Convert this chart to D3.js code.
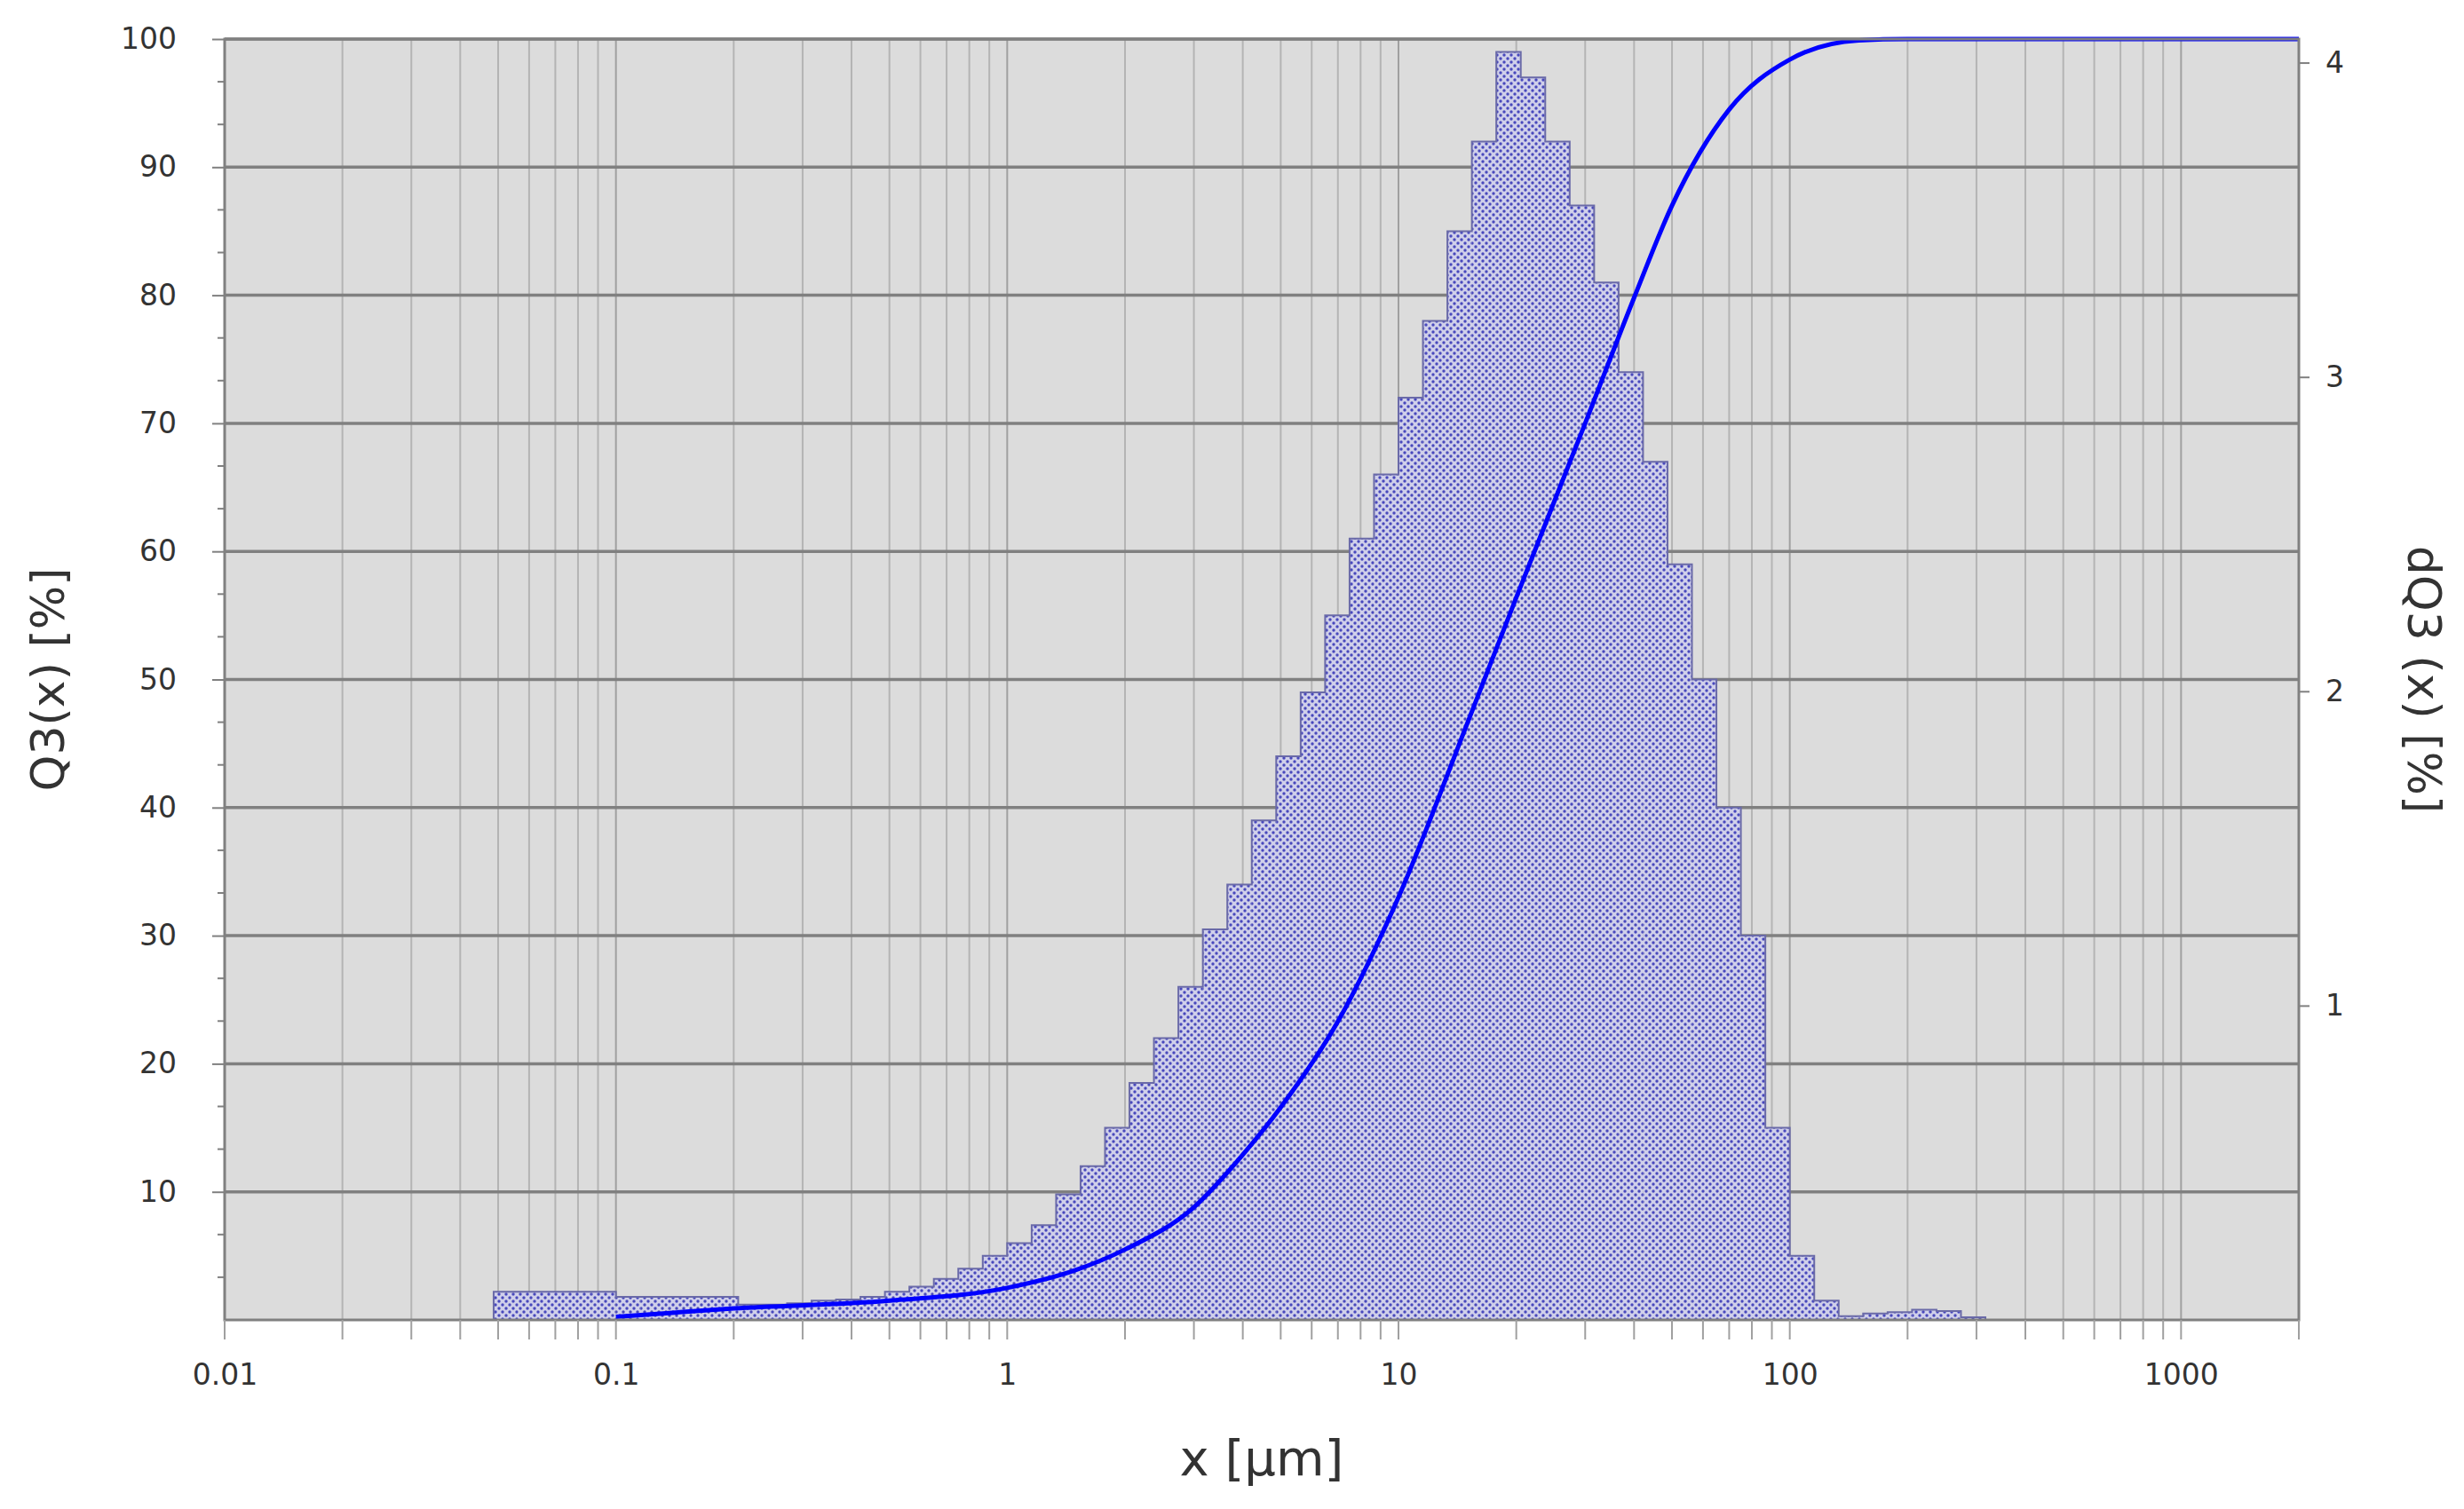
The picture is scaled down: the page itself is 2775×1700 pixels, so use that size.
<!DOCTYPE html>
<html><head><meta charset="utf-8">
<script src="https://cdn.jsdelivr.net/npm/d3@7"></script>
<style>body{margin:0;background:#fff}text{font-family:"DejaVu Sans",sans-serif;fill:#333}</style>
</head><body><svg id="c" width="2775" height="1700"></svg>
<script>
// histogram: bins of 1/16 decade starting at 10^-1.3125
const binStartLog = -1.3125, binStep = 1/16;
const binHeights = [2.2,2.2,2.2,2.2,2.2,
 1.8,1.8,1.8,1.8,1.8,1.2,1.2,1.3,1.5,1.6,1.8,2.2,2.6,3.2,4.0,5.0,6.0,7.4,9.8,12,15,18.5,22,26,30.5,34,39,44,49,55,61,66,72,78,85,92,99,97,92,87,81,74,67,59,50,40,30,15,5,1.5,0.3,0.5,0.6,0.8,0.7,0.2];
// cumulative Q3
const q3X = [0.1,0.2,0.5,1,1.5,2,3,4,5,7,10,15,20,30,40,50,70,100,150,200,2000];
const q3Y = [0.25,0.9,1.5,2.5,3.9,5.5,8.8,12.9,16.6,23.3,33,46.6,56.4,70,79.8,87,94.5,98.4,99.9,100,100];
const xTickLabels = ["0.01","0.1","1","10","100","1000"];
const yTicks = [10,20,30,40,50,60,70,80,90,100];
const y2Ticks = [1,2,3,4];

const svg = d3.select("#c");
const L=253,R=2589,T=44,B=1487;
const x = d3.scaleLog().domain([0.01,2000]).range([L,R]);
const y = d3.scaleLinear().domain([0,100]).range([B,T]);
const y2 = d3.scaleLinear().domain([0,4.075]).range([B,T]);

const defs = svg.append("defs");
const pat = defs.append("pattern").attr("id","dots").attr("patternUnits","userSpaceOnUse").attr("width",8).attr("height",8);
pat.append("rect").attr("width",8).attr("height",8).attr("fill","#d0d0ea");
pat.append("circle").attr("cx",2).attr("cy",2).attr("r",1.7).attr("fill","#4848bc");
pat.append("circle").attr("cx",6).attr("cy",6).attr("r",1.7).attr("fill","#4848bc");

svg.append("rect").attr("x",L).attr("y",T).attr("width",R-L).attr("height",B-T).attr("fill","#dcdcdc");

const vt=[];
for(let e=-2;e<=3;e++) for(let m=1;m<=9;m++){const v=m*Math.pow(10,e); if(v<=2000) vt.push(v);}
svg.append("g").selectAll("line").data(vt).join("line")
 .attr("x1",d=>x(d)).attr("x2",d=>x(d)).attr("y1",T).attr("y2",B)
 .attr("stroke",(d,i)=>i%9===0?"#a0a0a0":"#b4b4b4").attr("stroke-width",2);
svg.append("g").selectAll("line").data(yTicks).join("line")
 .attr("x1",L).attr("x2",R).attr("y1",d=>y(d)).attr("y2",d=>y(d)).attr("stroke","#808080").attr("stroke-width",3.5);

const bins = binHeights.map((h,i)=>({x0:Math.pow(10,binStartLog+i*binStep),x1:Math.pow(10,binStartLog+(i+1)*binStep),h}));
svg.append("g").selectAll("rect").data(bins).join("rect")
 .attr("x",d=>x(d.x0)).attr("width",d=>x(d.x1)-x(d.x0))
 .attr("y",d=>y(d.h)).attr("height",d=>B-y(d.h)).attr("fill","url(#dots)");
const pts=[[bins[0].x0,0]];
bins.forEach(b=>{pts.push([b.x0,b.h]);pts.push([b.x1,b.h]);});
pts.push([bins[bins.length-1].x1,0]);
svg.append("path").attr("d",d3.line().x(d=>x(d[0])).y(d=>y(d[1]))(pts))
 .attr("fill","none").attr("stroke","#6a6aa8").attr("stroke-width",2);

svg.append("path").datum(q3X.map((v,i)=>[v,q3Y[i]]))
 .attr("d",d3.line().x(d=>x(d[0])).y(d=>y(d[1])).curve(d3.curveMonotoneX))
 .attr("fill","none").attr("stroke","#0000ff").attr("stroke-width",5);

svg.append("rect").attr("x",L).attr("y",T).attr("width",R-L).attr("height",B-T).attr("fill","none").attr("stroke","#808080").attr("stroke-width",3);

const gl = svg.append("g").attr("transform",`translate(${L},0)`).call(d3.axisLeft(y).tickValues(yTicks).tickSize(14).tickPadding(40));
gl.selectAll("text").attr("font-size",33).attr("fill","#333");
gl.selectAll("line,path").attr("stroke","#808080").attr("stroke-width",2);
gl.select(".domain").remove();
const minorY=[];for(let v=0;v<100;v+=10){minorY.push(v+10/3,v+20/3);}
svg.append("g").selectAll("line").data(minorY).join("line").attr("x1",L-8).attr("x2",L).attr("y1",d=>y(d)).attr("y2",d=>y(d)).attr("stroke","#808080").attr("stroke-width",2);

const gr = svg.append("g").attr("transform",`translate(${R},0)`).call(d3.axisRight(y2).tickValues(y2Ticks).tickFormat(d3.format("d")).tickSize(12).tickPadding(18));
gr.selectAll("text").attr("font-size",33).attr("fill","#333");
gr.selectAll("line,path").attr("stroke","#808080").attr("stroke-width",2);
gr.select(".domain").remove();

const gb = svg.append("g").attr("transform",`translate(0,${B})`)
 .call(d3.axisBottom(x).tickValues(xTickLabels.map(Number)).tickFormat((d,i)=>xTickLabels[i]).tickSize(0).tickPadding(50));
gb.selectAll("text").attr("font-size",33).attr("fill","#333");
gb.select(".domain").remove();
svg.append("g").selectAll("line").data(vt).join("line").attr("x1",d=>x(d)).attr("x2",d=>x(d)).attr("y1",B).attr("y2",B+22).attr("stroke","#a0a0a0").attr("stroke-width",2);

svg.append("text").attr("transform",`translate(72,${(T+B)/2}) rotate(-90)`).attr("text-anchor","middle").attr("font-size",52).attr("fill","#444").text("Q3(x) [%]");
svg.append("text").attr("transform",`translate(2712,${(T+B)/2}) rotate(90)`).attr("text-anchor","middle").attr("font-size",52).attr("fill","#444").text("dQ3 (x) [%]");
svg.append("text").attr("x",(L+R)/2).attr("y",1662).attr("text-anchor","middle").attr("font-size",56).attr("fill","#444").text("x [µm]");
</script></body></html>
